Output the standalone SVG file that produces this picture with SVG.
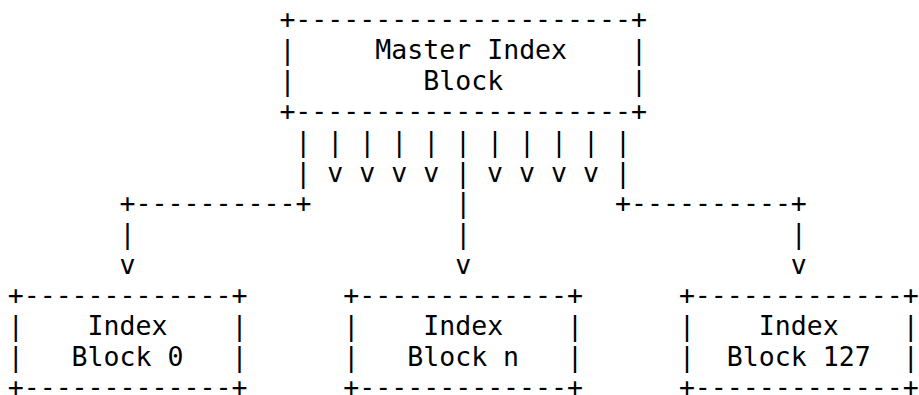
<svg xmlns="http://www.w3.org/2000/svg" width="919" height="395" viewBox="0 0 919 395">
<style>
text{font-family:"DejaVu Sans Mono","Liberation Mono",monospace;font-size:26.55px;fill:#000;white-space:pre}
</style>
<rect width="919" height="395" fill="#fff"/>
<g id="master-index-block">
<text x="279.4" y="28.3" xml:space="preserve">+---------------------+</text>
<text x="279.4" y="59" xml:space="preserve">|     Master Index    |</text>
<text x="279.4" y="89.6" xml:space="preserve">|        Block        |</text>
<text x="279.4" y="120.3" xml:space="preserve">+---------------------+</text>
</g>
<g id="connectors">
<text x="295.3" y="151" xml:space="preserve">| | | | | | | | | | |</text>
<text x="295.3" y="181.7" xml:space="preserve">| v v v v | v v v v |</text>
<text x="119.6" y="212.3" xml:space="preserve">+----------+         |         +----------+</text>
<text x="119.6" y="243" xml:space="preserve">|                    |                    |</text>
<text x="119.6" y="273.7" xml:space="preserve">v                    v                    v</text>
</g>
<g id="index-block-0">
<text x="7.7" y="304.3" xml:space="preserve">+-------------+</text>
<text x="7.7" y="335" xml:space="preserve">|    Index    |</text>
<text x="7.7" y="365.7" xml:space="preserve">|   Block 0   |</text>
<text x="7.7" y="396.3" xml:space="preserve">+-------------+</text>
</g>
<g id="index-block-n">
<text x="343.3" y="304.3" xml:space="preserve">+-------------+</text>
<text x="343.3" y="335" xml:space="preserve">|    Index    |</text>
<text x="343.3" y="365.7" xml:space="preserve">|   Block n   |</text>
<text x="343.3" y="396.3" xml:space="preserve">+-------------+</text>
</g>
<g id="index-block-127">
<text x="678.9" y="304.3" xml:space="preserve">+-------------+</text>
<text x="678.9" y="335" xml:space="preserve">|    Index    |</text>
<text x="678.9" y="365.7" xml:space="preserve">|  Block 127  |</text>
<text x="678.9" y="396.3" xml:space="preserve">+-------------+</text>
</g>
</svg>
